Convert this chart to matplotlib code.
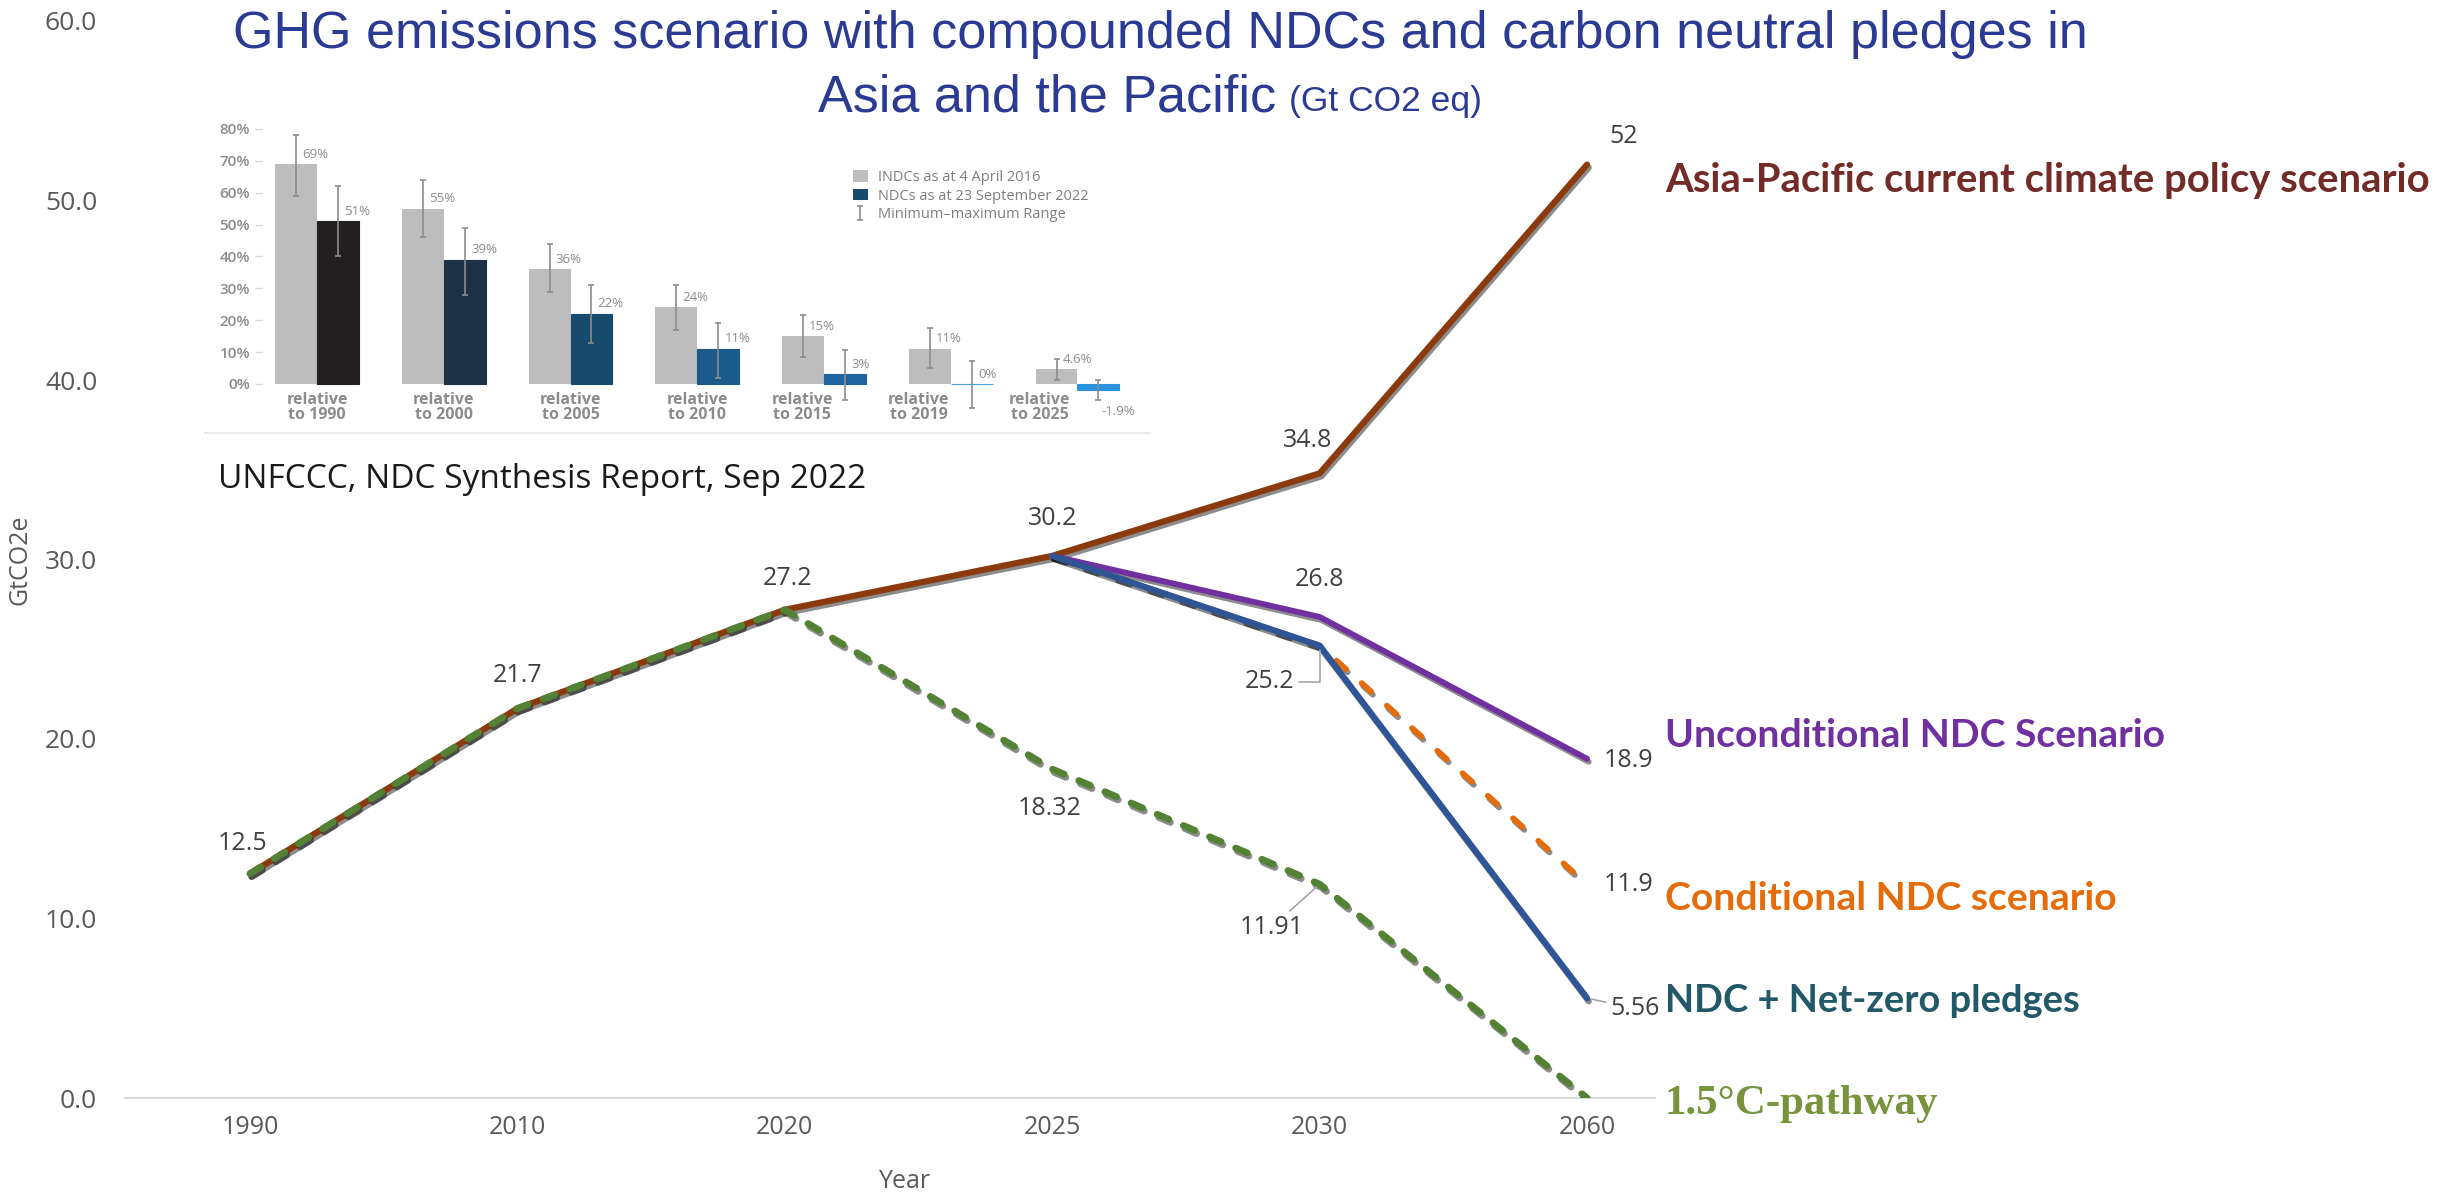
import matplotlib
matplotlib.use('Agg')
import matplotlib.pyplot as plt
import matplotlib.patheffects as pe
from matplotlib.patches import Patch
import numpy as np

# ---------------- data: main chart ----------------
years = ['1990', '2010', '2020', '2025', '2030', '2060']
current_policy = [12.5, 21.7, 27.2, 30.2, 34.8, 52.0]
pathway_15c = [12.5, 21.7, 27.2, 18.32, 11.91, 0.0]
unconditional_ndc = [np.nan, np.nan, np.nan, 30.2, 26.8, 18.9]
conditional_ndc = [np.nan, np.nan, np.nan, 30.2, 25.2, 11.9]
ndc_netzero = [np.nan, np.nan, np.nan, 30.2, 25.2, 5.56]
y_ticks = [0, 10, 20, 30, 40, 50, 60]
series_names = ['Asia-Pacific current climate policy scenario',
                'Unconditional NDC Scenario',
                'Conditional NDC scenario',
                'NDC + Net-zero pledges',
                '1.5°C-pathway']

# ---------------- data: inset (UNFCCC synthesis) ----------------
inset_categories = ['relative\nto 1990', 'relative\nto 2000', 'relative\nto 2005',
                    'relative\nto 2010', 'relative\nto 2015', 'relative\nto 2019',
                    'relative\nto 2025']
indc_2016 = [69, 55, 36, 24, 15, 11, 4.6]
indc_2016_min = [59, 46, 29, 17, 8.5, 5, 1.4]
indc_2016_max = [78, 64, 44, 31, 21.5, 17.6, 7.8]
ndc_2022 = [51, 39, 22, 11, 3, 0, -1.9]
ndc_2022_min = [40, 28, 13, 2, -5, -7.6, -5]
ndc_2022_max = [62, 49, 31, 19, 10.8, 7.1, 1.4]
indc_labels = ['69%', '55%', '36%', '24%', '15%', '11%', '4.6%']
ndc_labels = ['51%', '39%', '22%', '11%', '3%', '0%', '-1.9%']
inset_yticks = [0, 10, 20, 30, 40, 50, 60, 70, 80]
inset_legend = ['INDCs as at 4 April 2016', 'NDCs as at 23 September 2022',
                'Minimum\u2013maximum Range']

# ---------------- layout helpers ----------------
W, H, DPI = 2446, 1196, 100
PX = 72.0 / DPI  # points per pixel
plt.rcParams['font.family'] = ['Open Sans', 'DejaVu Sans']

fig = plt.figure(figsize=(W / DPI, H / DPI), dpi=DPI)
fig.patch.set_facecolor('white')


def fx(px):
    return px / W


def fy(py):
    return 1 - py / H


renderer = fig.canvas.get_renderer()


def width_px(t):
    return t.get_window_extent(renderer=renderer).width


def fit(t, target):
    for _ in range(2):
        t.set_fontsize(t.get_fontsize() * target / width_px(t))


# ---------------- main axes ----------------
ax = fig.add_axes([fx(125), fy(1098), (1655 - 125) / W, (1098 - 21) / H])
x = np.arange(len(years))
ax.set_xlim(-0.4675, 5.254)
ax.set_ylim(0, 60)
for s in ['top', 'right', 'left']:
    ax.spines[s].set_visible(False)
ax.spines['bottom'].set_color('#d9d9d9')
ax.spines['bottom'].set_linewidth(1.5)
ax.set_yticks(y_ticks)
ax.set_yticklabels([f'{v:.1f}' for v in y_ticks])
ax.set_xticks(x)
ax.set_xticklabels(years)
ax.tick_params(axis='y', length=0, pad=20, labelsize=19, labelcolor='#595959')
ax.tick_params(axis='x', length=0, pad=12, labelsize=18, labelcolor='#595959')
ax.set_ylabel('GtCO2e', fontsize=18, color='#595959', va='center')
ax.yaxis.set_label_coords(-0.0686, 0.5)
ax.set_xlabel('Year', fontsize=18, color='#595959', va='center')
ax.xaxis.set_label_coords(0.51, -0.0771)

shadow = [pe.SimpleLineShadow(offset=(1.2, -2.2), shadow_color='black', alpha=0.45), pe.Normal()]
ax.plot(x, current_policy, color='#8B3A0E', lw=4.5, solid_capstyle='round',
        path_effects=shadow, zorder=2)
ax.plot(x, conditional_ndc, color='#E46C0A', lw=4.2, ls=(0, (2.2, 3.6)),
        dash_capstyle='round', path_effects=shadow, zorder=3)
ax.plot(x, unconditional_ndc, color='#7030A0', lw=4.2, solid_capstyle='round',
        path_effects=shadow, zorder=4)
ax.plot(x, ndc_netzero, color='#2F5597', lw=4.5, solid_capstyle='round',
        path_effects=shadow, zorder=5)
ax.plot(x, pathway_15c, color='#548235', lw=5, ls=(0, (1.8, 2.3)),
        dash_capstyle='round', path_effects=shadow, zorder=6)

val_style = dict(fontsize=18, color='#404040', textcoords='offset points')
leader = dict(arrowstyle='-', color='#a6a6a6', lw=1.2, shrinkA=1, shrinkB=3)


def vlabel(series, i, dx, dy, ha='center', va='center', conn=None):
    v = series[i]
    kw = {}
    if conn is not None:
        kw['arrowprops'] = dict(leader, connectionstyle=conn)
    ax.annotate(f'{v:g}', xy=(i, v), xytext=(dx * PX, dy * PX), ha=ha, va=va,
                zorder=10, **val_style, **kw)


vlabel(current_policy, 0, -8, 30)
vlabel(current_policy, 1, 0, 33)
vlabel(current_policy, 2, 3, 31)
vlabel(current_policy, 3, 0, 37)
vlabel(current_policy, 4, -12, 33)
vlabel(current_policy, 5, 22, 28, ha='left')
vlabel(unconditional_ndc, 4, 0, 37)
vlabel(ndc_netzero, 4, -50, -36, conn='angle,angleA=0,angleB=90,rad=0')
vlabel(pathway_15c, 3, -3, -39)
vlabel(pathway_15c, 4, -48, -43, conn='arc3')
vlabel(unconditional_ndc, 5, 17, -2, ha='left')
vlabel(conditional_ndc, 5, 17, 0, ha='left')
vlabel(ndc_netzero, 5, 23, -10, ha='left', conn='arc3')

# series names on the right
name_colors = ['#722B26', '#7030A0', '#E46C0A', '#215968', '#77933C']
name_baselines = [192, 747, 910, 1012, 1114]
name_widths = [761, 499, 452, 415, 273]
for name, c, b, wdt in zip(series_names, name_colors, name_baselines, name_widths):
    if 'pathway' in name:
        t = fig.text(fx(1665), fy(b), name, color=c, fontsize=30, fontweight='bold',
                     family=['Liberation Serif', 'DejaVu Serif'], ha='left', va='baseline')
    else:
        t = fig.text(fx(1665), fy(b), name, color=c, fontsize=28, fontweight='bold',
                     family=['Lato', 'DejaVu Sans'], ha='left', va='baseline')
    fit(t, wdt)

# title
tcol = '#2B3A93'
t1 = fig.text(fx(1160), fy(48), 'GHG emissions scenario with compounded NDCs and carbon neutral pledges in',
              ha='center', va='baseline', color=tcol, family=['Liberation Sans', 'DejaVu Sans'],
              fontsize=37.5)
fit(t1, 1853)
fs = t1.get_fontsize()
ta = fig.text(0, fy(111), 'Asia and the Pacific', ha='left', va='baseline', color=tcol,
              family=['Liberation Sans', 'DejaVu Sans'], fontsize=fs)
tb = fig.text(0, fy(111), '(Gt CO2 eq)', ha='left', va='baseline', color=tcol,
              family=['Liberation Sans', 'DejaVu Sans'], fontsize=fs * 0.68)
wa, wb = width_px(ta), width_px(tb)
gap = 0.25 * fs / PX
start = 1150 - (wa + gap + wb) / 2
ta.set_x(fx(start))
tb.set_x(fx(start + wa + gap))

src = fig.text(fx(218), fy(488), 'UNFCCC, NDC Synthesis Report, Sep 2022', ha='left',
               va='baseline', color='#1a1a1a', fontsize=22)
fit(src, 648)

# ---------------- inset bar chart ----------------
axi = fig.add_axes([fx(262), fy(433), (1150 - 262) / W, (433 - 120) / H])
axi.set_facecolor('none')
xi = np.arange(len(inset_categories))
bw = 0.331
axi.set_xlim(-0.434, 6.572)
axi.set_ylim(-15.37, 82.8)
for s in ['top', 'right', 'left', 'bottom']:
    axi.spines[s].set_visible(False)
axi.plot([-0.064, 1.0], [0, 0], transform=axi.transAxes, color='#ebebeb', lw=1.5, clip_on=False)

ndc_colors = ['#231F20', '#1D3146', '#174A6D', '#1A5B8B', '#1B64A0', '#4AA3DF', '#2B93DE']
axi.bar(xi - bw / 2, indc_2016, bw, color='#BDBDBD', zorder=2)
axi.bar(xi + bw / 2, ndc_2022, bw, color=ndc_colors, edgecolor=ndc_colors, linewidth=0.8, zorder=2)

ind = np.array(indc_2016, float)
ndc = np.array(ndc_2022, float)
err_kw = dict(fmt='none', ecolor='#8c8c8c', elinewidth=1.2, capsize=2.5, capthick=1.2, zorder=3)
eb = axi.errorbar(xi - bw / 2, ind, yerr=[ind - np.array(indc_2016_min), np.array(indc_2016_max) - ind], **err_kw)
axi.errorbar(xi + bw / 2, ndc, yerr=[ndc - np.array(ndc_2022_min), np.array(ndc_2022_max) - ndc], **err_kw)

axi.set_yticks(inset_yticks)
axi.set_yticklabels([f'{v}%' for v in inset_yticks])
axi.tick_params(axis='y', length=5, width=1, color='#d9d9d9', pad=3.6, labelsize=11,
                labelcolor='#8c8c8c')
for lbl in axi.get_yticklabels():
    lbl.set_fontweight('semibold')
axi.set_xticks([])

cat_dx = [0, 0, 0, 0, -22, -32, -38]
for i, c in enumerate(inset_categories):
    axi.annotate(c, xy=(i, 0), xytext=(cat_dx[i] * PX, -8 * PX), textcoords='offset points',
                 ha='center', va='top', fontsize=11.5, fontweight='bold', color='#8c8c8c',
                 linespacing=0.95, annotation_clip=False)

for i, (v, l) in enumerate(zip(indc_2016, indc_labels)):
    axi.annotate(l, xy=(i - bw / 2, v), xytext=(4.5, 2.5), textcoords='offset points',
                 ha='left', va='bottom', fontsize=9.5, color='#8c8c8c')
for i, (v, l) in enumerate(zip(ndc_2022, ndc_labels)):
    if v >= 0:
        axi.annotate(l, xy=(i + bw / 2, v), xytext=(4.5, 2.5), textcoords='offset points',
                     ha='left', va='bottom', fontsize=9.5, color='#8c8c8c')
    else:
        axi.annotate(l, xy=(i + bw / 2, v), xytext=(2, -11), textcoords='offset points',
                     ha='left', va='top', fontsize=9.5, color='#8c8c8c', annotation_clip=False)

handles = [Patch(facecolor='#BDBDBD'), Patch(facecolor='#174A6D'), eb]
axi.legend(handles, inset_legend, loc='upper left', bbox_to_anchor=(0.6655, 0.84),
           frameon=False, fontsize=10.5, labelcolor='#7f7f7f', handlelength=1.0,
           handleheight=0.8, handletextpad=0.7, labelspacing=0.25, borderpad=0,
           borderaxespad=0)

fig.savefig('out.png', dpi=DPI, facecolor='white')
